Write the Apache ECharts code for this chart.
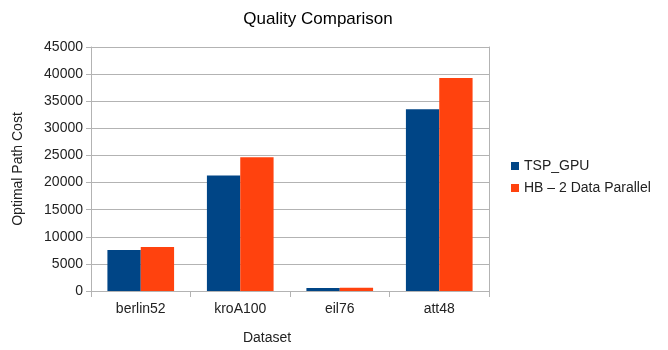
<!DOCTYPE html>
<html><head><meta charset="utf-8">
<script src="https://cdn.jsdelivr.net/npm/echarts@6/dist/echarts.min.js"></script>
<style>html,body{margin:0;padding:0;background:#fff}#c{width:668px;height:350px}</style>
</head><body><div id="c"></div>
<script>
const categories = ['berlin52', 'kroA100', 'eil76', 'att48'];
const tspGpu = [7542, 21282, 550, 33523];
const hbParallel = [8100, 24650, 600, 39300];
const seriesNames = ['TSP_GPU', 'HB \u2013 2 Data Parallel'];

const chart = echarts.init(document.getElementById('c'));
const font = 'Liberation Sans';
const txt = '#222';
chart.setOption({
  animation: false,
  title: {text: 'Quality Comparison', left: 313, top: 6, textAlign: 'center',
    textStyle: {fontFamily: font, fontSize: 17, fontWeight: 'normal', color: '#000'}},
  legend: {orient: 'vertical', left: 506, top: 154, itemWidth: 8, itemHeight: 8, itemGap: 8,
    icon: 'rect', textStyle: {fontFamily: font, fontSize: 14, color: txt}},
  grid: {left: 91, right: 179, top: 47, bottom: 57},
  xAxis: {type: 'category', data: categories, name: 'Dataset', nameLocation: 'middle', nameGap: 40,
    nameTextStyle: {fontFamily: font, fontSize: 14, color: txt, padding: [0, 46, 0, 0]},
    axisLine: {lineStyle: {color: '#b3b3b3'}},
    axisTick: {show: true, length: 6, lineStyle: {color: '#b3b3b3'}},
    axisLabel: {fontFamily: font, fontSize: 14, color: txt, margin: 11}},
  yAxis: [{type: 'value', min: 0, max: 45000, interval: 5000, name: 'Optimal Path Cost',
    nameLocation: 'middle', nameGap: 66, nameRotate: 90,
    nameTextStyle: {fontFamily: font, fontSize: 14, color: txt},
    axisLine: {show: true, lineStyle: {color: '#b3b3b3'}},
    axisTick: {show: true, length: 5, lineStyle: {color: '#b3b3b3'}},
    splitLine: {lineStyle: {color: '#b3b3b3'}},
    axisLabel: {fontFamily: font, fontSize: 14, color: txt, margin: 8, formatter: v => String(v)}},
    {type: 'value', position: 'right', min: 0, max: 45000, interval: 5000,
    axisLine: {show: true, lineStyle: {color: '#b3b3b3'}}, axisTick: {show: false},
    axisLabel: {show: false}, splitLine: {show: false}}],
  series: [
    {name: seriesNames[0], type: 'bar', data: tspGpu, itemStyle: {color: '#004586'}, barGap: '0%', barCategoryGap: '33%'},
    {name: seriesNames[1], type: 'bar', data: hbParallel, itemStyle: {color: '#ff420e'}}
  ]
});
</script></body></html>
